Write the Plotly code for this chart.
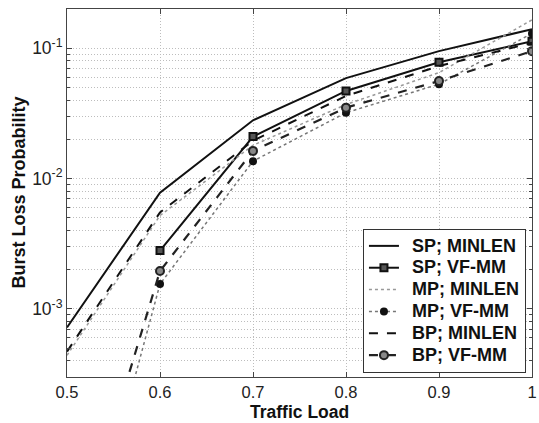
import plotly.graph_objects as go
import math

# ---- data ----
traffic_load = [0.5, 0.6, 0.7, 0.8, 0.9, 1.0]
sp_minlen = [7.2e-4, 7.8e-3, 0.028, 0.059, 0.095, 0.14]
sp_vfmm = [None, 2.8e-3, 0.021, 0.047, 0.078, 0.113]
mp_minlen = [4.4e-4, 5.2e-3, 0.018, 0.037, 0.065, 0.165]
mp_vfmm = [3.5e-6, 1.55e-3, 0.0136, 0.032, 0.053, 0.13]
bp_minlen = [4.7e-4, 5.5e-3, 0.0195, 0.043, 0.073, 0.11]
bp_vfmm = [8.5e-6, 1.95e-3, 0.0163, 0.035, 0.056, 0.095]

series_names = ["SP; MINLEN", "SP; VF-MM", "MP; MINLEN", "MP; VF-MM", "BP; MINLEN", "BP; VF-MM"]

x_ticks = [0.5, 0.6, 0.7, 0.8, 0.9, 1.0]
x_ticktext = ["0.5", "0.6", "0.7", "0.8", "0.9", "1"]
y_ticks = [1e-3, 1e-2, 1e-1]
y_ticktext = ["10<sup>-3</sup>", "10<sup>-2</sup>", "10<sup>-1</sup>"]
y_minor = [m * 10 ** e for e in (-4, -3, -2, -1) for m in range(2, 10)]

FONT = "Liberation Sans, Arial, sans-serif"


def lname(s):
    # larger visible text while keeping the compact legend row height
    return "&nbsp;&nbsp;<span style='font-size:18px'>" + s + "</span>"


fig = go.Figure()

fig.add_trace(go.Scatter(x=traffic_load, y=sp_minlen, name=lname(series_names[0]), mode="lines",
                         line=dict(color="#111111", width=2)))
fig.add_trace(go.Scatter(x=traffic_load, y=sp_vfmm, name=lname(series_names[1]), mode="lines+markers",
                         line=dict(color="#111111", width=2),
                         marker=dict(symbol="square", size=7, color="#555555",
                                     line=dict(color="#111111", width=2))))
fig.add_trace(go.Scatter(x=traffic_load, y=mp_minlen, name=lname(series_names[2]), mode="lines",
                         line=dict(color="#999999", width=1.5, dash="dot")))
fig.add_trace(go.Scatter(x=traffic_load, y=mp_vfmm, name=lname(series_names[3]), mode="lines+markers",
                         line=dict(color="#777777", width=1.5, dash="dot"),
                         marker=dict(symbol="circle", size=8, color="#111111")))
fig.add_trace(go.Scatter(x=traffic_load, y=bp_minlen, name=lname(series_names[4]), mode="lines",
                         line=dict(color="#111111", width=2, dash="dash")))
fig.add_trace(go.Scatter(x=traffic_load, y=bp_vfmm, name=lname(series_names[5]), mode="lines+markers",
                         line=dict(color="#222222", width=2.2, dash="dash"),
                         marker=dict(symbol="circle", size=8, color="#888888",
                                     line=dict(color="#222222", width=2))))

grid_color = "#bdbdbd"
grid_dash = "1px,2px"
fig.update_layout(
    width=539, height=423,
    margin=dict(l=67, r=2, t=9, b=46),
    paper_bgcolor="white", plot_bgcolor="white",
    font=dict(family=FONT, color="#222222", size=17),
    showlegend=True,
    legend=dict(x=0.987, xanchor="right", y=0.011, yanchor="bottom",
                bgcolor="white", bordercolor="#333333", borderwidth=1,
                font=dict(size=14.5, family=FONT, color="#111111", weight="bold"),
                tracegroupgap=0, itemwidth=30),
    xaxis=dict(range=[0.5, 1.0], tickvals=x_ticks, ticktext=x_ticktext,
               tickfont=dict(size=16.5), ticklabeloverflow="allow",
               showgrid=True, gridcolor=grid_color, griddash=grid_dash, gridwidth=1,
               zeroline=False, showline=True, linecolor="#444444", linewidth=1, mirror="ticks",
               ticks="inside", ticklen=5, tickcolor="#444444"),
    yaxis=dict(type="log", range=[math.log10(3e-4), math.log10(0.2)],
               tickvals=y_ticks, ticktext=y_ticktext, tickfont=dict(size=17.5),
               showgrid=True, gridcolor=grid_color, griddash=grid_dash, gridwidth=1,
               zeroline=False, showline=True, linecolor="#444444", linewidth=1, mirror="ticks",
               ticks="inside", ticklen=5, tickcolor="#444444",
               minor=dict(tickvals=y_minor, showgrid=True, gridcolor=grid_color, griddash=grid_dash,
                          gridwidth=1, ticks="inside", ticklen=3, tickcolor="#444444")),
    annotations=[
        dict(text="<b>Traffic Load</b>", xref="paper", yref="paper", x=0.5, y=0,
             yshift=-35, xanchor="center", yanchor="middle", showarrow=False,
             font=dict(size=17.5, family=FONT, color="#111111")),
        dict(text="<b>Burst Loss Probability</b>", xref="paper", yref="paper", x=0, y=0.5,
             xshift=-48.5, xanchor="center", yanchor="middle", textangle=-90, showarrow=False,
             font=dict(size=18, family=FONT, color="#111111")),
    ],
)

fig.write_html("out.html", config={"displayModeBar": False},
               post_script="document.body.style.margin='0';")
